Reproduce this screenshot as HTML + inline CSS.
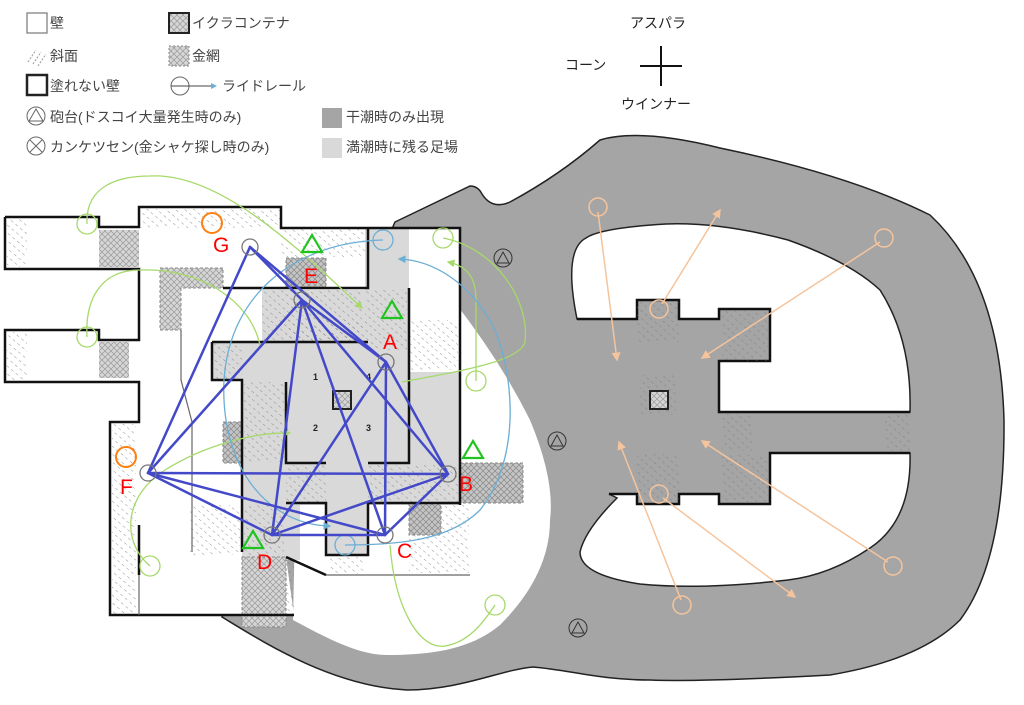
<!DOCTYPE html>
<html><head><meta charset="utf-8"><style>
html,body{margin:0;padding:0;background:#fff;}
svg{display:block}
text{font-family:"Liberation Sans","Noto Sans CJK JP",sans-serif;}
</style></head><body>
<svg width="1024" height="705" viewBox="0 0 1024 705" xmlns="http://www.w3.org/2000/svg">
<defs>
<pattern id="h" width="6" height="6" patternUnits="userSpaceOnUse" patternTransform="rotate(-50)">
<line x1="0" y1="0" x2="0" y2="3" stroke="#777" stroke-width="0.8"/>
</pattern>
<pattern id="m" width="6" height="6" patternUnits="userSpaceOnUse">
<rect width="6" height="6" fill="#d6d6d6"/>
<path d="M0,0L6,6M6,0L0,6" stroke="#999" stroke-width="0.7"/>
</pattern>
<pattern id="md" width="6" height="6" patternUnits="userSpaceOnUse">
<rect width="6" height="6" fill="#c4c4c4"/>
<path d="M0,0L6,6M6,0L0,6" stroke="#888" stroke-width="0.7"/>
</pattern>
<marker id="ag" markerWidth="6" markerHeight="6" refX="5" refY="3" orient="auto"><path d="M0,0L6,3L0,6z" fill="#a6d96a"/></marker>
<marker id="ab" markerWidth="6" markerHeight="6" refX="5" refY="3" orient="auto"><path d="M0,0L6,3L0,6z" fill="#6baed6"/></marker>
<marker id="ao" markerWidth="6" markerHeight="6" refX="5" refY="3" orient="auto"><path d="M0,0L6,3L0,6z" fill="#f5c49c"/></marker>
</defs>

<!-- Legend -->
<g font-size="14" fill="#444">
<rect x="27" y="13" width="20" height="20" fill="#fff" stroke="#777" stroke-width="1.2"/><text x="50" y="28">壁</text>
<path d="M28,62 L36,50 M33,64 L41,52 M38,66 L46,54" stroke="#999" stroke-dasharray="2,1.5"/><text x="50" y="61">斜面</text>
<rect x="27" y="75" width="20" height="20" fill="#fff" stroke="#222" stroke-width="2.5"/><text x="50" y="91">塗れない壁</text>
<circle cx="36" cy="116" r="9" fill="none" stroke="#666"/><path d="M29,121 L36,109 L43,121z" fill="none" stroke="#666"/><text x="50" y="122">砲台(ドスコイ大量発生時のみ)</text>
<circle cx="36" cy="146" r="9" fill="none" stroke="#666"/><path d="M30,140L42,152M42,140L30,152" stroke="#666"/><text x="50" y="152">カンケツセン(金シャケ探し時のみ)</text>
<rect x="169" y="13" width="20" height="20" fill="url(#m)" stroke="#222" stroke-width="2"/><text x="192" y="28">イクラコンテナ</text>
<rect x="169" y="46" width="20" height="20" fill="url(#m)" stroke="#888" stroke-dasharray="2,2"/><text x="192" y="61">金網</text>
<circle cx="180" cy="86" r="9" fill="none" stroke="#666"/><line x1="171" y1="86" x2="216" y2="86" stroke="#444" marker-end="url(#ab)"/><text x="222" y="91">ライドレール</text>
<rect x="322" y="108" width="20" height="20" fill="#a5a5a5"/><text x="346" y="122">干潮時のみ出現</text>
<rect x="322" y="138" width="20" height="20" fill="#d9d9d9"/><text x="346" y="152">満潮時に残る足場</text>
<text x="630" y="28" fill="#222">アスパラ</text>
<text x="565" y="70" fill="#222">コーン</text>
<text x="621" y="109" fill="#222">ウインナー</text>
<line x1="640" y1="66" x2="682" y2="66" stroke="#111" stroke-width="2"/>
<line x1="661" y1="46" x2="661" y2="86" stroke="#111" stroke-width="2"/>
</g>

<!-- Gray outer area -->
<path d="M222,617 C260,640 330,686 407,690 C460,690 500,670 533,667 C570,670 600,680 650,680 Q700,682 830,675 Q920,660 960,620 Q1005,560 1004,420 Q1000,280 930,215 Q850,175 720,148 Q640,128 600,140 Q560,175 510,202 Q492,210 482,194 Q478,186 470,186 L395,222 Z" fill="#a5a5a5" stroke="#222" stroke-width="1.5"/>
<!-- left inner white -->
<path d="M293,620 C330,640 360,655 387,655 C430,655 470,650 500,625 C530,595 550,560 550,520 Q555,480 530,420 Q500,360 453,300 L300,300 Z" fill="#fff"/>
<!-- right holes -->
<path d="M577,319 L637,319 L637,300 L679,300 L679,319 L719,319 L719,309 L770,309 L770,361 L719,361 L719,412 L910,412 Q912,340 880,290 Q850,262 788,240 Q720,222 666,224 Q600,228 586,238 Q563,250 577,319 Z" fill="#fff" stroke="#222" stroke-width="1.5"/>
<path d="M609,494 L637,494 L637,504 L679,504 L679,494 L719,494 L719,504 L770,504 L770,453 L910,453 Q912,520 870,548 Q830,575 788,580 Q700,590 640,584 Q580,575 580,552 Q585,530 617,498 Z" fill="#fff" stroke="#222" stroke-width="1.5"/>
<g stroke="#111" stroke-width="2.5" fill="none">
<path d="M577,319 L637,319 L637,300 L679,300 L679,319 L719,319 L719,309 L770,309 L770,361 L719,361 L719,412 L910,412"/>
<path d="M609,494 L637,494 L637,504 L679,504 L679,494 L719,494 L719,504 L770,504 L770,453 L910,453"/>
</g>
<g fill="url(#h)">
<rect x="637" y="302" width="42" height="40"/><rect x="637" y="454" width="42" height="48"/>
<rect x="722" y="311" width="46" height="50"/><rect x="722" y="455" width="46" height="47"/>
<rect x="722" y="414" width="30" height="37"/><rect x="885" y="414" width="25" height="37"/>
<rect x="640" y="375" width="36" height="40"/>
</g>
<rect x="650" y="391" width="18" height="18" fill="url(#m)" stroke="#222" stroke-width="2"/>
<g fill="none" stroke="#333"><circle cx="503" cy="258" r="9"/><path d="M497,263L503,252L509,263z"/>
<circle cx="557" cy="441" r="9"/><path d="M551,446L557,435L563,446z"/>
<circle cx="578" cy="628" r="9"/><path d="M572,633L578,622L584,633z"/></g>
<!-- orange rails -->
<g stroke="#f5c49c" stroke-width="1.5" fill="none">
<circle cx="598" cy="207" r="9"/><line x1="598" y1="212" x2="617" y2="360" marker-end="url(#ao)"/>
<circle cx="659" cy="309" r="9"/><line x1="662" y1="304" x2="720" y2="210" marker-end="url(#ao)"/>
<circle cx="884" cy="238" r="9"/><line x1="880" y1="242" x2="702" y2="358" marker-end="url(#ao)"/>
<circle cx="659" cy="494" r="9"/><line x1="663" y1="498" x2="795" y2="597" marker-end="url(#ao)"/>
<circle cx="682" cy="605" r="9"/><line x1="681" y1="600" x2="619" y2="442" marker-end="url(#ao)"/>
<circle cx="893" cy="566" r="9"/><line x1="888" y1="562" x2="702" y2="441" marker-end="url(#ao)"/>
</g>

<!-- Left map -->
<path d="M5,217 L99,217 L99,227 L139,227 L139,207 L281,207 L281,228 L460,228 L460,505 L470,505 L470,575 L326,575 L286,557 L294,615 L110,615 L110,422 L139,422 L139,382 L5,382 L5,330 L99,330 L99,340 L139,340 L139,269 L5,269 Z" fill="#fff"/>
<path d="M365,228 L409,228 L409,372 L460,372 L460,505 L368,505 L368,555 L326,555 L326,505 L300,505 L300,560 L242,560 L242,380 L212,380 L212,342 L262,342 L262,290 L365,290 Z" fill="#d9d9d9"/>
<g fill="url(#h)">
<rect x="141" y="209" width="140" height="19"/><rect x="281" y="229" width="84" height="28"/>
<rect x="7" y="219" width="20" height="48"/><rect x="7" y="332" width="20" height="48"/>
<rect x="112" y="424" width="24" height="190"/><rect x="365" y="290" width="42" height="60"/>
<rect x="409" y="320" width="49" height="50"/><rect x="262" y="290" width="100" height="50"/>
<rect x="244" y="382" width="40" height="80"/><rect x="214" y="344" width="28" height="36"/>
<rect x="286" y="465" width="40" height="38"/><rect x="368" y="465" width="90" height="38"/>
<rect x="409" y="505" width="60" height="68"/><rect x="330" y="557" width="34" height="17"/>
<rect x="244" y="505" width="40" height="50"/><rect x="190" y="505" width="50" height="50"/>
<rect x="286" y="320" width="78" height="22"/><rect x="286" y="560" width="8" height="55"/>
</g>
<g stroke="#888" stroke-dasharray="3,2">
<rect x="99" y="230" width="40" height="37" fill="url(#m)" stroke="none"/>
<rect x="99" y="342" width="30" height="36" fill="url(#m)" stroke="none"/>
<path d="M160,268 L223,268 L223,288 L181,288 L181,330 L160,330 Z" fill="url(#m)"/>
<rect x="286" y="258" width="40" height="30" fill="url(#md)"/>
<rect x="223" y="422" width="19" height="41" fill="url(#md)"/>
<rect x="460" y="463" width="63" height="40" fill="url(#md)"/>
<rect x="409" y="503" width="32" height="32" fill="url(#md)"/>
<rect x="242" y="557" width="44" height="70" fill="url(#m)"/>
</g>
<g stroke="#111" stroke-width="2.5" fill="none">
<path d="M5,217 L99,217 L99,227 L139,227 L139,207 L281,207 L281,228 L460,228 L460,505"/>
<path d="M5,217 L5,269 L139,269 L139,340 L99,340 L99,330 L5,330 L5,382 L139,382 L139,422 L110,422 L110,615 L294,615"/>
<path d="M223,288 L368,288 L368,228"/><path d="M212,342 L368,342"/><path d="M212,342 L212,380 L242,380 L242,552"/>
<path d="M286,382 L286,463 L326,463"/><path d="M368,463 L409,463 L409,288"/>
<path d="M286,503 L326,503 L326,555 L368,555 L368,503 L460,503"/>
<path d="M286,557 L326,575"/><path d="M139,525 L139,575"/>
</g>
<g stroke="#666" stroke-width="1.2" fill="none"><path d="M326,575 L470,575"/><path d="M181,330 L181,380 L192,422 L192,552"/><path d="M139,575 L139,615"/></g>
<rect x="333" y="391" width="18" height="18" fill="url(#m)" stroke="#222" stroke-width="2"/>
<g font-size="9" font-weight="bold" fill="#222"><text x="313" y="380">1</text><text x="366" y="380">4</text><text x="313" y="431">2</text><text x="366" y="431">3</text></g>

<!-- rails -->
<g stroke="#a6d96a" stroke-width="1.3" fill="none">
<circle cx="87" cy="224" r="10"/><circle cx="87" cy="337" r="10"/><circle cx="150" cy="566" r="10"/>
<circle cx="443" cy="238" r="10"/><circle cx="476" cy="381" r="10"/><circle cx="495" cy="605" r="10"/>
<path d="M87,224 C85,185 120,176 150,176 C220,172 300,250 362,308" marker-end="url(#ag)"/>
<path d="M87,337 C85,300 100,270 140,270 C200,268 250,300 260,345"/>
<path d="M150,566 C120,540 125,495 165,470 C205,445 255,432 290,433" marker-end="url(#ag)"/>
<path d="M443,238 C495,248 530,300 525,342 C520,362 455,372 402,382"/>
<path d="M476,381 L476,300 C476,276 466,266 448,262" marker-end="url(#ag)"/>
<path d="M390,545 C395,610 420,650 445,646 C470,642 485,620 495,605"/>
</g>
<g stroke="#6baed6" stroke-width="1.3" fill="none">
<circle cx="383" cy="240" r="10"/><circle cx="345" cy="545" r="10"/>
<path d="M383,240 C300,242 230,290 224,380 C220,470 270,525 330,526" marker-end="url(#ab)"/>
<path d="M345,545 C400,545 450,540 480,510 C520,460 515,380 495,330 C470,280 430,260 399,259" marker-end="url(#ab)"/>
</g>

<!-- blue graph -->
<g stroke="#4349c8" stroke-width="2.5" fill="none" stroke-linecap="round">
<line x1="250" y1="247" x2="302" y2="300"/><line x1="250" y1="247" x2="386" y2="362"/><line x1="250" y1="247" x2="148" y2="473"/>
<line x1="302" y1="300" x2="386" y2="362"/><line x1="302" y1="300" x2="148" y2="473"/><line x1="302" y1="300" x2="272" y2="535"/>
<line x1="302" y1="300" x2="385" y2="535"/><line x1="302" y1="300" x2="448" y2="474"/>
<line x1="386" y1="362" x2="272" y2="535"/><line x1="386" y1="362" x2="385" y2="535"/><line x1="386" y1="362" x2="448" y2="474"/>
<line x1="148" y1="473" x2="448" y2="474"/><line x1="148" y1="473" x2="385" y2="535"/><line x1="148" y1="473" x2="272" y2="535"/>
<line x1="272" y1="535" x2="448" y2="474"/><line x1="272" y1="535" x2="385" y2="535"/><line x1="385" y1="535" x2="448" y2="474"/>
</g>
<g fill="none" stroke="#777" stroke-width="1.3">
<circle cx="250" cy="247" r="8"/><circle cx="302" cy="300" r="8"/><circle cx="386" cy="362" r="8"/><circle cx="148" cy="473" r="8"/>
<circle cx="448" cy="474" r="8"/><circle cx="272" cy="535" r="8"/><circle cx="385" cy="535" r="8"/>
</g>
<g fill="none" stroke="#ff7f0e" stroke-width="2"><circle cx="212" cy="223" r="10"/><circle cx="126" cy="457" r="10"/></g>
<g fill="none" stroke="#1fc41f" stroke-width="2.2">
<path d="M302,252 L312,235 L322,252z"/><path d="M382,318 L392,301 L402,318z"/><path d="M463,458 L473,441 L483,458z"/><path d="M243,548 L253,531 L263,548z"/>
</g>
<g fill="#f00" font-size="21">
<text x="213" y="252">G</text><text x="304" y="283">E</text><text x="383" y="349">A</text><text x="120" y="494">F</text>
<text x="459" y="491">B</text><text x="257" y="569">D</text><text x="397" y="558">C</text>
</g>
</svg>
</body></html>
